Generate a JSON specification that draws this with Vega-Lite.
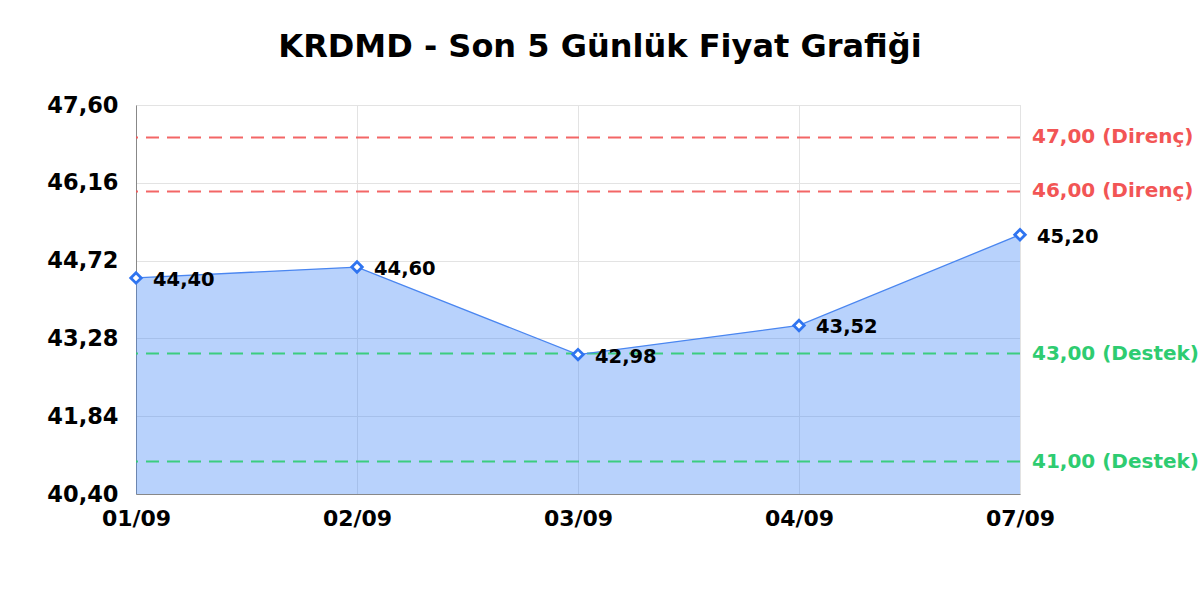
{
  "$schema": "https://vega.github.io/schema/vega-lite/v6.json",
  "width": 884,
  "height": 389,
  "autosize": {"type": "none"},
  "padding": {"left": 136, "top": 105, "right": 180, "bottom": 106},
  "background": "white",
  "title": {
    "text": "KRDMD - Son 5 Günlük Fiyat Grafiği",
    "font": "DejaVu Sans",
    "fontSize": 32,
    "fontWeight": "bold",
    "color": "#000000",
    "anchor": "middle",
    "frame": "group",
    "dx": 22,
    "offset": 30
  },
  "datasets": {
    "prices": [
      {"date": "01/09", "price": 44.40},
      {"date": "02/09", "price": 44.60},
      {"date": "03/09", "price": 42.98},
      {"date": "04/09", "price": 43.52},
      {"date": "07/09", "price": 45.20}
    ],
    "levels": [
      {"level": 47.00, "kind": "Direnç", "label": "47,00 (Direnç)", "date": "07/09"},
      {"level": 46.00, "kind": "Direnç", "label": "46,00 (Direnç)", "date": "07/09"},
      {"level": 43.00, "kind": "Destek", "label": "43,00 (Destek)", "date": "07/09"},
      {"level": 41.00, "kind": "Destek", "label": "41,00 (Destek)", "date": "07/09"}
    ]
  },
  "layer": [
    {
      "data": {"name": "prices"},
      "mark": {"type": "area", "color": "#3b82f6", "opacity": 0.36, "clip": true},
      "encoding": {
        "x": {
          "field": "date", "type": "ordinal", "sort": null,
          "scale": {"type": "point", "padding": 0},
          "axis": {
            "title": null, "labelAngle": 0, "ticks": false,
            "labelFontSize": 22, "labelPadding": 14,
            "domainColor": "#888888", "gridColor": "#e3e3e3"
          }
        },
        "y": {
          "field": "price", "type": "quantitative",
          "scale": {"domain": [40.4, 47.6], "zero": false, "nice": false},
          "axis": {
            "title": null, "values": [40.4, 41.84, 43.28, 44.72, 46.16, 47.6],
            "format": ".2f", "ticks": false, "labelFontSize": 22.5, "labelPadding": 18,
            "domainColor": "#888888", "gridColor": "#e3e3e3"
          }
        }
      }
    },
    {
      "data": {"name": "levels"},
      "mark": {"type": "rule", "strokeDash": [13, 8], "strokeWidth": 2, "opacity": 0.9},
      "encoding": {
        "y": {"field": "level", "type": "quantitative"},
        "color": {
          "field": "kind", "type": "nominal", "legend": null,
          "scale": {"domain": ["Direnç", "Destek"], "range": ["#f25555", "#2ecc71"]}
        }
      }
    },
    {
      "data": {"name": "levels"},
      "mark": {"type": "text", "align": "left", "baseline": "middle", "dx": 12, "fontSize": 20, "fontWeight": "bold"},
      "encoding": {
        "x": {"field": "date", "type": "ordinal"},
        "y": {"field": "level", "type": "quantitative"},
        "text": {"field": "label"},
        "color": {"field": "kind", "type": "nominal", "legend": null}
      }
    },
    {
      "data": {"name": "prices"},
      "mark": {"type": "line", "color": "#4a86f0", "strokeWidth": 1.3},
      "encoding": {
        "x": {"field": "date", "type": "ordinal", "sort": null},
        "y": {"field": "price", "type": "quantitative"}
      }
    },
    {
      "data": {"name": "prices"},
      "mark": {"type": "point", "shape": "diamond", "filled": true, "fill": "white", "stroke": "#2f74f0", "strokeWidth": 2.8, "size": 110, "opacity": 1},
      "encoding": {
        "x": {"field": "date", "type": "ordinal", "sort": null},
        "y": {"field": "price", "type": "quantitative"}
      }
    },
    {
      "data": {"name": "prices"},
      "mark": {"type": "text", "align": "left", "baseline": "middle", "dx": 17, "dy": 2, "fontSize": 19.5, "fontWeight": "bold", "color": "#000000"},
      "encoding": {
        "x": {"field": "date", "type": "ordinal", "sort": null},
        "y": {"field": "price", "type": "quantitative"},
        "text": {"field": "price", "type": "quantitative", "format": ".2f"}
      }
    }
  ],
  "config": {
    "locale": {"number": {"decimal": ",", "thousands": ".", "grouping": [3], "currency": ["", " TL"]}},
    "font": "DejaVu Sans",
    "axis": {"labelFont": "DejaVu Sans", "labelFontWeight": "bold", "labelColor": "#000000", "grid": true},
    "view": {"stroke": "#e3e3e3"}
  }
}
